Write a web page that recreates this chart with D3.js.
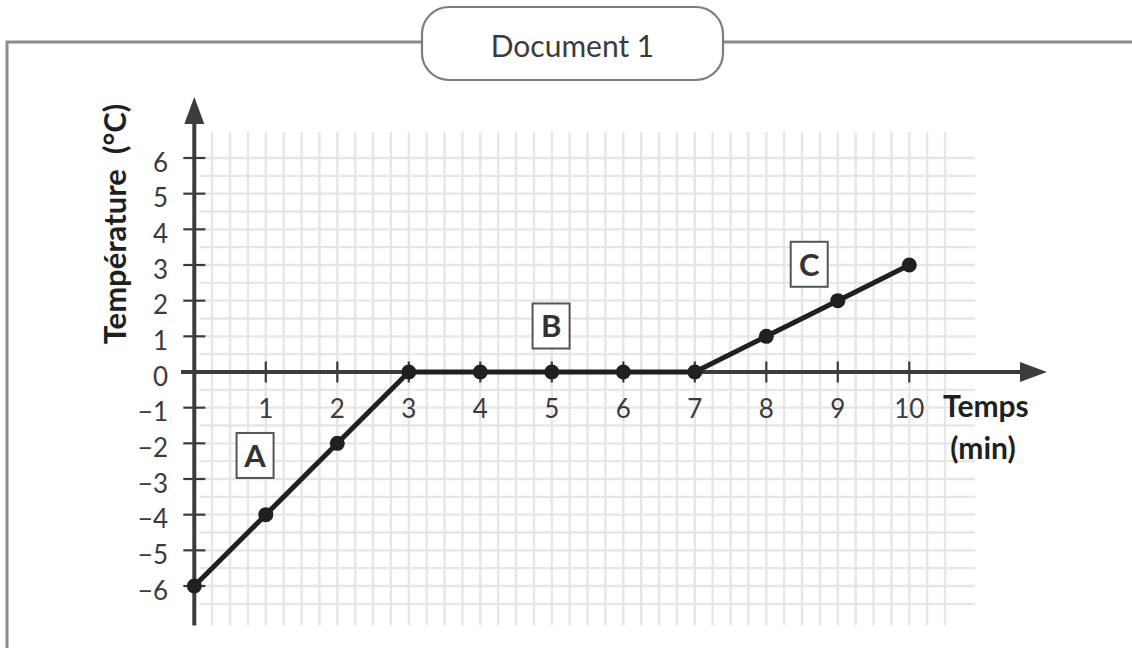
<!DOCTYPE html>
<html><head><meta charset="utf-8">
<script src="https://cdn.jsdelivr.net/npm/d3@7"></script>
<style>html,body{margin:0;padding:0;background:#fff;}svg{display:block;}</style>
</head><body>
<svg id="chart" width="1132" height="648"></svg>
<script>
const times = [0,1,2,3,4,5,6,7,8,9,10];
const temperatures = [-6,-4,-2,0,0,0,0,0,1,2,3];
const xTickValues = [1,2,3,4,5,6,7,8,9,10];
const yTickValues = [-6,-5,-4,-3,-2,-1,0,1,2,3,4,5,6];
const phaseLabels = ["A","B","C"];
const phasePos = [[0.85,-2.34],[4.99,1.29],[8.6,3.02]];
const title = "Document 1";
const xLabel = ["Temps","(min)"];
const yLabel = "Température  (°C)";

const svg = d3.select("#chart");
const x = d3.scaleLinear().domain([0,10]).range([194.3,909.3]);
const y = d3.scaleLinear().domain([-6,6]).range([586,158]);
const font = "Lato, 'Open Sans', sans-serif";

// frame
svg.append("path").attr("d","M7,648 V42 H1132").attr("fill","none")
  .attr("stroke","#8c8c8e").attr("stroke-width",3);
svg.append("rect").attr("x",422).attr("y",7).attr("width",301).attr("height",73)
  .attr("rx",27).attr("fill","#fff").attr("stroke","#7d7d7f").attr("stroke-width",2.2);
svg.append("text").attr("x",572.5).attr("y",57).attr("text-anchor","middle")
  .attr("font-family",font).attr("font-size",30).attr("fill","#3b3b3b").text(title);

// grid
const g = svg.append("g");
const vx = d3.range(0.25,10.51,0.25);
g.selectAll(".v").data(vx).join("line")
  .attr("x1",d=>x(d)).attr("x2",d=>x(d)).attr("y1",y(6.73)).attr("y2",y(-7.11))
  .attr("stroke","#e6e6e8").attr("stroke-width",2.4);
const hy = d3.range(-6.5,6.01,0.5);
g.selectAll(".h").data(hy).join("line")
  .attr("y1",d=>y(d)).attr("y2",d=>y(d)).attr("x1",x(0.07)).attr("x2",x(10.92))
  .attr("stroke","#e6e6e8").attr("stroke-width",2.4);

// axes
const axCol = "#3c3c3c";
svg.append("line").attr("x1",x(0)).attr("x2",x(0)).attr("y1",y(-7.11)).attr("y2",122)
  .attr("stroke",axCol).attr("stroke-width",4);
svg.append("path").attr("d",`M${x(0)-10},124 L${x(0)},97 L${x(0)+10},124 Z`).attr("fill",axCol);
svg.append("line").attr("x1",181).attr("x2",1022).attr("y1",y(0)).attr("y2",y(0))
  .attr("stroke",axCol).attr("stroke-width",4);
svg.append("path").attr("d",`M1020,${y(0)-10} L1047,${y(0)} L1020,${y(0)+10} Z`).attr("fill",axCol);

svg.selectAll(".yt").data(yTickValues.filter(d=>d!==0)).join("line")
  .attr("x1",x(0)-11).attr("x2",x(0)+11).attr("y1",d=>y(d)).attr("y2",d=>y(d))
  .attr("stroke",axCol).attr("stroke-width",2.2);
svg.selectAll(".xt").data(xTickValues).join("line")
  .attr("y1",y(0)-10.5).attr("y2",y(0)+10.5).attr("x1",d=>x(d)).attr("x2",d=>x(d))
  .attr("stroke",axCol).attr("stroke-width",2.2);

svg.selectAll(".yl").data(yTickValues).join("text")
  .attr("x",168).attr("y",d=>y(d)+13.5).attr("text-anchor","end")
  .attr("font-family",font).attr("font-size",26).attr("fill","#3b3b3b")
  .text(d=>d<0?"\u2212"+Math.abs(d):String(d));
svg.selectAll(".xl").data(xTickValues).join("text")
  .attr("x",d=>x(d)).attr("y",418).attr("text-anchor","middle")
  .attr("font-family",font).attr("font-size",26).attr("fill","#3b3b3b")
  .text(d=>String(d));

// axis titles
svg.append("text").attr("x",943).attr("y",417).attr("font-family",font).attr("font-weight",700)
  .attr("font-size",30).attr("fill","#1f1f1f").text(xLabel[0]);
svg.append("text").attr("x",983).attr("y",459).attr("text-anchor","middle").attr("font-family",font)
  .attr("font-weight",700).attr("font-size",30).attr("fill","#1f1f1f").text(xLabel[1]);
svg.append("text").attr("transform","translate(126,224) rotate(-90)").attr("text-anchor","middle")
  .attr("font-family",font).attr("font-weight",700).attr("font-size",31).attr("fill","#1f1f1f")
  .attr("xml:space","preserve").style("white-space","pre").text(yLabel);

// data line
const data = times.map((t,i)=>({t, v: temperatures[i]}));
svg.append("path").datum(data)
  .attr("d", d3.line().x(d=>x(d.t)).y(d=>y(d.v)))
  .attr("fill","none").attr("stroke","#221f20").attr("stroke-width",5).attr("stroke-linejoin","round");
svg.selectAll(".pt").data(data).join("circle")
  .attr("cx",d=>x(d.t)).attr("cy",d=>y(d.v)).attr("r",7.5).attr("fill","#221f20");

// phase labels
const lab = svg.selectAll(".ph").data(phaseLabels).join("g")
  .attr("transform",(d,i)=>`translate(${x(phasePos[i][0])},${y(phasePos[i][1])})`);
lab.append("rect").attr("x",-18.5).attr("y",-22.5).attr("width",37).attr("height",45)
  .attr("fill","#fff").attr("stroke","#555").attr("stroke-width",2);
lab.append("text").attr("y",11.5).attr("text-anchor","middle").attr("font-family",font)
  .attr("font-weight",700).attr("font-size",31).attr("fill","#333").text(d=>d);
</script>
</body></html>
